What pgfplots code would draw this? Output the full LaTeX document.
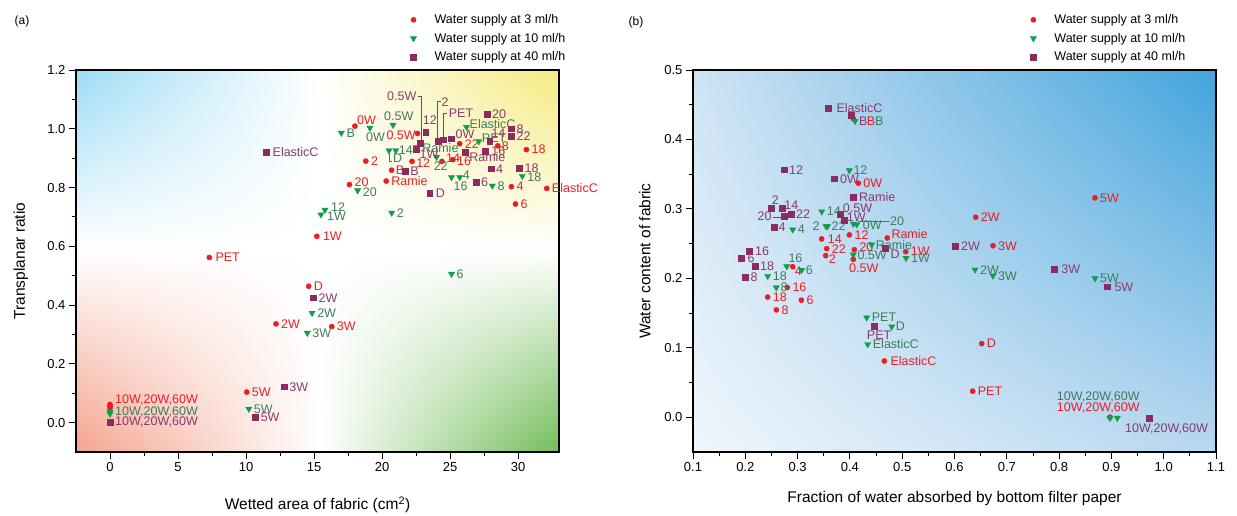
\documentclass[border=0pt]{standalone}
\usepackage{pgfplots}
\pgfplotsset{compat=1.18}
\usepackage{pgfplotstable}
\usetikzlibrary{shadings}
\usepackage{fontspec}
\setmainfont{Liberation Sans}

\definecolor{cR}{HTML}{ED1C24}
\definecolor{cG}{HTML}{109E4A}
\definecolor{cGl}{HTML}{3E7B5B}
\definecolor{cP}{HTML}{8C2B5E}
\definecolor{cPl}{HTML}{8A3A6A}
\definecolor{bgBlue}{HTML}{9DDCF5}
\definecolor{bgYel}{HTML}{F5EA7E}
\definecolor{bgSal}{HTML}{F4A38E}
\definecolor{bgGrn}{HTML}{72BD5A}
\definecolor{bUL}{HTML}{CFE3F4}
\definecolor{bUR}{HTML}{41A4DC}
\definecolor{bLL}{HTML}{EFF6FC}
\definecolor{bLR}{HTML}{B8D7F0}

\newcommand\lblfont{\fontsize{12.5}{14}\selectfont}

\pgfplotsset{
  ser/.style={only marks, forget plot, point meta=explicit symbolic,
    visualization depends on={\thisrow{dx}\as\mydx},
    visualization depends on={\thisrow{dy}\as\mydy},
    nodes near coords,
    nodes near coords style={anchor=west, xshift=\mydx pt, yshift=\mydy pt,
      inner sep=0pt, color=#1, font=\lblfont}},
  mR/.style={mark=*, mark size=2.6pt, color=cR, mark options={draw=none, fill=cR}},
  mG/.style={mark=triangle*, mark size=3.6pt, color=cG, mark options={rotate=180, draw=none, fill=cG}},
  mP/.style={mark=square*, mark size=2.9pt, color=cP, mark options={draw=none, fill=cP}},
  common/.style={
    scale only axis, clip=false, axis background/.style={fill=none},
    axis line style={line width=1.1pt}, tick style={line width=0.9pt, black},
    tick align=outside, major tick length=7pt, minor tick length=4pt,
    xtick pos=bottom, ytick pos=left, minor tick num=1,
    tick label style={font=\fontsize{13}{15}\selectfont},
    /pgf/number format/assume math mode=true,
    label style={font=\fontsize{15.5}{18}\selectfont},
    legend style={draw=none, fill=none, font=\fontsize{12.5}{14}\selectfont,
      row sep=4pt, inner sep=0pt, nodes={inner sep=2pt}},
    legend cell align=left,
    legend image code/.code={\path[draw=none, fill=none] (-6pt,-0.1pt) rectangle (19pt,0.1pt); \draw[##1] plot coordinates {(0pt,0pt)};},
  },
}

% panel (a): wetted area vs transplanar ratio
\pgfplotstableread{
x y lbl dx dy
18.0 1.009 0W 2 6
22.6 0.984 0.5W -31.2 -2
25.7 0.949 22 5 0
28.5 0.942 8 4 0
30.6 0.929 18 5 0
18.8 0.890 2 5 0
22.2 0.889 12 4 -2
24.4 0.889 14 4 3
25.2 0.895 16 4 -2
20.7 0.859 B 4 0
20.3 0.822 Ramie 5 0
17.6 0.810 20 5 2
29.5 0.803 4 5 0
32.1 0.797 ElasticC 5 0
29.8 0.744 6 5 0
15.2 0.634 1W 6 0
7.3 0.562 PET 6 0
14.6 0.464 D 5 0
12.2 0.336 2W 5 0
16.3 0.327 3W 5 0
10.05 0.104 5W 5 0
0 0.062 10W,20W,60W 5 4
0 0.056 {} 0 0
0 0.050 {} 0 0
}\aRed

\pgfplotstableread{
x y lbl dx dy
20.8 1.013 0.5W -9 9
19.1 1.003 0W -4 -9
17.0 0.986 B 5 0
26.2 1.006 ElasticC 3 3
27.1 0.957 PET 3 3
20.5 0.926 D 4 -8
21.0 0.926 14 3 0
22.5 0.937 Ramie 6 -1
24.0 0.904 22 -3 -9
25.1 0.835 16 2 -9
25.7 0.835 4 3 2
28.1 0.806 8 5 0
30.3 0.839 18 5 -1
18.2 0.790 20 5 -2
15.8 0.724 12 6 3
15.5 0.708 1W 6 -2
20.7 0.714 2 5 0
25.1 0.506 6 5 0
14.85 0.373 2W 5 0
14.5 0.305 3W 5 0
10.2 0.047 5W 5 0
0 0.036 10W,20W,60W 5 0
0 0.030 {} 0 0
}\aGreen

\pgfplotstableread{
x y lbl dx dy
23.2 0.987 12 -3 12
22.8 0.950 0.5W -33.2 47
24.1 0.957 2 3.4 39
24.5 0.963 PET 5.3 26
25.1 0.966 0W 4 5
22.5 0.930 1W 3.4 -5
26.1 0.920 Ramie 4 -4.7
27.7 1.050 20 5 0
29.5 1.000 8 5 0
29.5 0.974 22 5 0
27.9 0.957 14 1.7 8.7
27.6 0.925 16 5.7 0
28.0 0.864 4 5 0
30.1 0.867 18 5 0
26.9 0.817 6 5 0
23.5 0.782 D 6 0
21.7 0.856 B 5 0
11.5 0.920 ElasticC 6 0
14.95 0.425 2W 5 0
12.8 0.122 3W 5 0
10.7 0.019 5W 5 0
0 0.001 10W,20W,60W 5 0
}\aPurple

% panel (b): fraction absorbed by filter paper vs water content
\pgfplotstableread{
x y lbl dx dy
0.4065 0.430 B 13.4 -2.7
0.416 0.337 0W 5 0
0.399 0.2626 12 5 0
0.346 0.2568 14 6 0
0.4715 0.2582 Ramie 4 4
0.4084 0.2413 20 5 2
0.3556 0.2428 22 5 0
0.3537 0.2327 2 3 -3
0.5067 0.2384 1W 5 0
0.4065 0.2273 0.5W -4.3 -8.6
0.2906 0.2168 4 2 -5
0.2803 0.1868 16 5 0
0.2428 0.173 18 5 0
0.3071 0.1686 6 5 0
0.2593 0.1546 8 5 0
0.6405 0.288 2W 5 0
0.8686 0.316 5W 5 0
0.6736 0.247 3W 5 0
0.652 0.106 D 5 0
0.6348 0.0376 PET 5 0
0.4658 0.081 ElasticC 6 0
0.8973 0.000 10W,20W,60W -53.3 9
}\bRed

\pgfplotstableread{
x y lbl dx dy
0.4098 0.4263 B 20 0
0.3989 0.3555 12 4 0
0.3461 0.2962 14 5 0
0.2906 0.2702 4 5 0
0.3543 0.275 2 -13.7 0
0.3572 0.275 22 4 0
0.4065 0.2785 20 36.7 2.6
0.413 0.2775 0W 6 -1
0.4417 0.2486 Ramie 4 0
0.4065 0.2341 0.5W 4 -1
0.5073 0.2293 1W 5 0
0.2792 0.2172 16 1.6 8.4
0.3078 0.212 6 4 0
0.2428 0.2033 18 5 0
0.2593 0.1868 8 4 0
0.6392 0.2124 2W 5 0
0.6736 0.2038 3W 5 0
0.8686 0.1999 5W 5 0
0.4321 0.1435 PET 5 0
0.4799 0.1305 D 4 0
0.434 0.105 ElasticC 5 0
0.8973 -0.001 10W,20W,60W -53.3 21
0.9113 -0.001 {} 0 0
}\bGreen

\pgfplotstableread{
x y lbl dx dy
0.3587 0.4455 ElasticC 8 0
0.4021 0.435 B 8 -6
0.2746 0.3565 12 4.7 0
0.3702 0.3435 0W 5.7 0
0.4065 0.3169 Ramie 5.7 0
0.2491 0.3016 2 0.7 8
0.2707 0.3016 14 2 2.3
0.2746 0.289 20 -26.9 0
0.288 0.2919 22 4.7 0
0.2549 0.2731 4 4.3 0
0.3816 0.2929 0.5W 2.4 5.6
0.3887 0.2842 1W 2.7 2.6
0.4677 0.2438 D 5 -6.7
0.2076 0.2389 16 5.7 0
0.1924 0.2293 6 6 0
0.2185 0.2178 18 5 0
0.2 0.2013 8 5 0
0.601 0.2464 2W 6 0
0.7908 0.2134 3W 7 0
0.8922 0.1879 5W 7 0
0.4467 0.1315 PET -7.6 -9
0.9725 -0.001 10W,20W,60W -24.3 -10.6
}\bPurple

\begin{document}
\begin{tikzpicture}
\path[use as bounding box] (0,0) rectangle (1237pt,515pt);

% background of panel (a): four coloured corners fading to a white centre
\shade[upper left=bgBlue, upper right=white, lower left=white, lower right=white] (76pt,265pt) rectangle (320pt,445pt);
\shade[upper left=white, upper right=bgYel, lower left=white, lower right=white] (320pt,265pt) rectangle (559pt,445pt);
\shade[upper left=white, upper right=white, lower left=bgSal, lower right=white] (76pt,63pt) rectangle (320pt,265pt);
\shade[upper left=white, upper right=white, lower left=white, lower right=bgGrn] (320pt,63pt) rectangle (559pt,265pt);
% background of panel (b)
\shade[upper left=bUL, upper right=bUR, lower left=bLL, lower right=bLR] (693pt,63pt) rectangle (1216pt,445pt);

\node[font=\fontsize{12}{14}\selectfont] at (22pt,494pt) {(a)};
\node[font=\fontsize{12}{14}\selectfont] at (636pt,493pt) {(b)};

\begin{axis}[common,
  at={(76pt,63pt)}, anchor=south west, width=483pt, height=382pt,
  xmin=-2.5, xmax=33, ymin=-0.1, ymax=1.2,
  xtick={0,5,...,30}, ytick={0,0.2,...,1.2},
  yticklabel style={/pgf/number format/.cd, fixed, fixed zerofill, precision=1},
  xlabel={Wetted area of fabric (cm\textsuperscript{2})},
  ylabel={Transplanar ratio},
  xlabel style={at={(axis description cs:0.5,-0.139)}, anchor=center},
  ylabel style={at={(axis description cs:-0.114,0.5)}, anchor=center},
  legend style={at={(axis description cs:0.686,1.151)}, anchor=north west},
]
\addlegendimage{only marks, mR}
\addlegendentry{Water supply at 3 ml/h}
\addlegendimage{only marks, mG}
\addlegendentry{Water supply at 10 ml/h}
\addlegendimage{only marks, mP}
\addlegendentry{Water supply at 40 ml/h}
\addplot[mR, ser=cR] table[meta=lbl] {\aRed};
\addplot[mG, ser=cGl] table[meta=lbl] {\aGreen};
\addplot[mP, ser=cPl] table[meta=lbl] {\aPurple};
% leader lines
\draw[cPl, line width=0.6pt] (axis cs:22.6,1.109) -- (axis cs:22.85,1.109) -- (axis cs:22.85,0.962);
\draw[cPl, line width=0.6pt] (axis cs:24.3,1.092) -- (axis cs:24.07,1.092) -- (axis cs:24.07,0.967);
\draw[cPl, line width=0.6pt] (axis cs:24.75,1.053) -- (axis cs:24.49,1.053) -- (axis cs:24.49,0.972);
\draw[cGl, line width=0.6pt] (axis cs:20.51,0.915) -- (axis cs:20.51,0.89) -- (axis cs:20.71,0.89);
\end{axis}

\begin{axis}[common,
  at={(693pt,63pt)}, anchor=south west, width=523pt, height=382pt,
  xmin=0.1, xmax=1.1, ymin=-0.05, ymax=0.5,
  xtick={0.1,0.2,...,1.1}, ytick={0,0.1,...,0.5},
  xticklabel style={/pgf/number format/.cd, fixed, fixed zerofill, precision=1},
  yticklabel style={/pgf/number format/.cd, fixed, fixed zerofill, precision=1},
  xlabel={Fraction of water absorbed by bottom filter paper},
  ylabel={Water content of fabric},
  xlabel style={at={(axis description cs:0.5,-0.123)}, anchor=center},
  ylabel style={at={(axis description cs:-0.092,0.5)}, anchor=center},
  legend style={at={(axis description cs:0.639,1.151)}, anchor=north west},
]
\addlegendimage{only marks, mR}
\addlegendentry{Water supply at 3 ml/h}
\addlegendimage{only marks, mG}
\addlegendentry{Water supply at 10 ml/h}
\addlegendimage{only marks, mP}
\addlegendentry{Water supply at 40 ml/h}
\addplot[mR, ser=cR] table[meta=lbl] {\bRed};
\addplot[mG, ser=cGl] table[meta=lbl] {\bGreen};
\addplot[mP, ser=cPl] table[meta=lbl] {\bPurple};
\draw[cPl, line width=0.6pt] (axis cs:0.252,0.288) -- (axis cs:0.271,0.288);
\draw[cG, line width=0.6pt] (axis cs:0.4155,0.2822) -- (axis cs:0.4767,0.2822);
\end{axis}
\end{tikzpicture}
\end{document}
